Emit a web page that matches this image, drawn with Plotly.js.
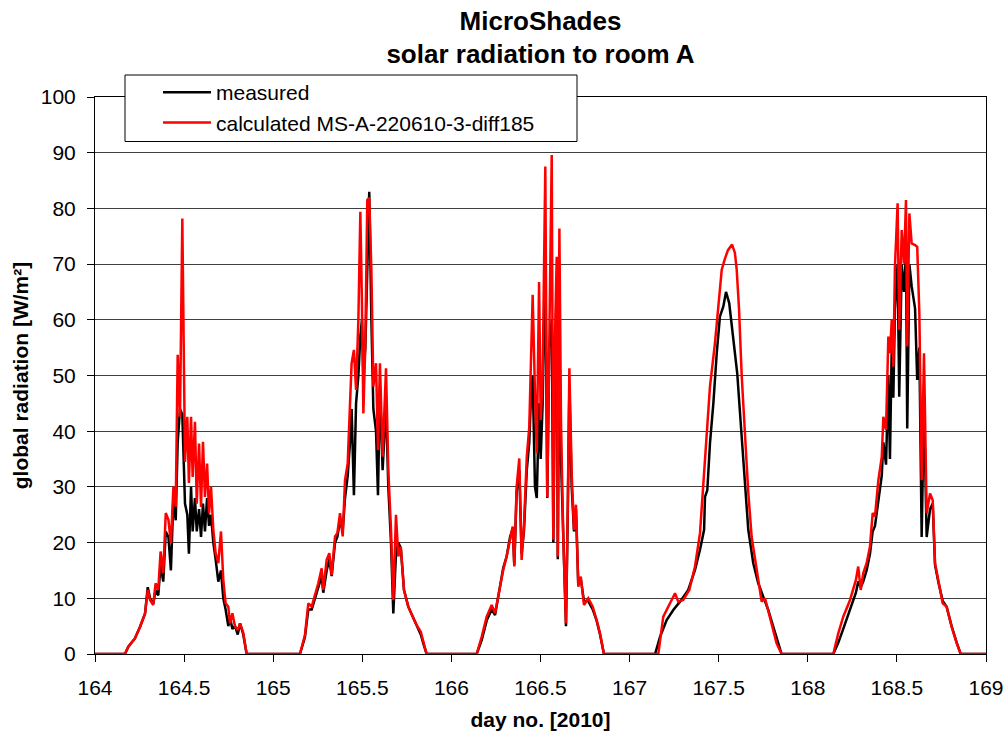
<!DOCTYPE html>
<html>
<head>
<meta charset="utf-8">
<script src="https://cdn.plot.ly/plotly-3.0.1.min.js"></script>
<style>html,body{margin:0;padding:0;background:#fff;}#chart{width:1008px;height:738px;}</style>
</head>
<body>
<div id="chart"></div>
<script>
// ---- data (day number, W/m²) ----
const dayRange = [164, 169];
const seriesNames = ["measured", "calculated MS-A-220610-3-diff185"];

const x164 = [164.168,164.187,164.224,164.253,164.281,164.296,164.309,164.327,164.340,164.355,164.368,164.383,164.397,164.412,164.426,164.440,164.453,164.464,164.477,164.490,164.498,164.505,164.518,164.527,164.539,164.548,164.561,164.571,164.584,164.595,164.606,164.617,164.629,164.640,164.651,164.664,164.677,164.692,164.707,164.720,164.733,164.748,164.758,164.771,164.786,164.801,164.814,164.832,164.851];
const meas164 = [0,1.3,2.8,4.9,7.3,12,10,9,11.5,10.5,16,13,22,21,15,28,24,38,44,43,36,27,25,18,30,22,28,22,26,21,27,22,28,23,25,20,17,13,15,10,8,5,6.5,4.5,5,3.5,5.5,3.5,0];
const calc164 = [0,1.3,2.8,4.9,7.3,11.5,9.7,8.8,12.7,11.5,18.4,14.5,25.3,24.1,19.9,30,26.4,53.7,42.6,78.2,46.2,34.5,42.6,30.7,42.6,31.8,41.7,27,37.8,26.4,38.1,28.2,34.2,25.3,30,22.3,18.1,16.3,22,13.3,9.1,8.5,5.5,7.3,4.9,4.3,5.5,3.8,0];

const x165 = [165.150,165.178,165.197,165.216,165.235,165.253,165.272,165.281,165.300,165.315,165.328,165.347,165.360,165.375,165.390,165.403,165.418,165.431,165.440,165.453,165.465,165.478,165.489,165.498,165.506,165.517,165.528,165.539,165.551,165.562,165.577,165.588,165.599,165.614,165.633,165.646,165.661,165.674,165.689,165.702,165.716,165.734,165.758,165.783,165.805,165.828,165.846,165.861];
const meas165 = [0,3,8,8,10,12,14,11,15,17,14,20,21,24,22,28,32,38,44,28.5,45,50,57,60,50,55,72,83,60,44,40,28.5,48,33,45,30,20,7.3,18,20,19,11.5,8.5,6.7,5,3.5,1.5,0];
const calc165 = [0,3.4,9.1,8.5,10.6,12.7,15.4,11.5,16.9,18.1,14.2,21.1,21.7,25.3,21.1,31.2,34.2,45,52.2,54.6,47.4,60,79.4,63,43.2,55.8,81.5,81.9,68.9,48,52.2,36.6,52.2,35.4,51.3,33,22.3,9.7,25,17.5,19.3,11.5,8.5,6.7,5.2,4,1.9,0];

const x166 = [166.142,166.170,166.198,166.226,166.245,166.263,166.291,166.310,166.329,166.344,166.353,166.366,166.381,166.394,166.407,166.423,166.437,166.445,166.456,166.469,166.479,166.492,166.501,166.512,166.527,166.538,166.549,166.563,166.572,166.581,166.591,166.597,166.606,166.615,166.628,166.643,166.653,166.662,166.675,166.688,166.699,166.712,166.726,166.744,166.768,166.793,166.815,166.834,166.856];
const meas166 = [0,2.5,6,8,7,10.6,15.5,17.5,21,22.5,16,29,33,18,22,33,38,45,50,30,28,45,35,45,72,28,55,60,20,50,67,17,58,35,20,5,25,48,30,22,26,12.5,13.5,9.5,9.5,8,6,3.5,0];
const calc166 = [0,3.1,6.7,8.8,7.3,10.6,15.1,17.5,20.5,22.9,15.7,30,35.1,16.9,22.9,35.4,40.8,51.6,64.5,46.8,36,66.8,42,49.8,87.5,28.2,56.4,89.6,20.5,56.4,71.3,17.5,76.4,42,20.5,5.5,26.4,51.3,32.4,22.3,26.8,12.1,13.9,8.8,10,8.5,6.1,3.7,0];

const x167meas = [167.143,167.171,167.208,167.245,167.283,167.329,167.367,167.395,167.418,167.423,167.436,167.451,167.470,167.489,167.507,167.526,167.541,167.559,167.582,167.604,167.629,167.648,167.666,167.694,167.722,167.750,167.778,167.806,167.834,167.853];
const meas167 = [0,3.1,6.1,7.9,9.4,11.5,15.1,18.7,22.3,28.2,29.4,37.8,45,54,60.6,62.4,65,63,57,50.4,39,29.4,22.3,16.3,12.7,10.3,7.9,4.9,1.9,0];
const x167calc = [167.161,167.189,167.217,167.255,167.273,167.301,167.335,167.367,167.395,167.414,167.423,167.451,167.479,167.507,167.517,167.535,167.552,167.575,167.591,167.601,167.614,167.629,167.648,167.666,167.685,167.713,167.741,167.760,167.788,167.825,167.853];
const calc167 = [0,6.7,8.5,10.9,9.4,9.7,11.5,15.7,21.7,30.6,36,48,55.8,65.4,69,71,72.5,73.5,72,69,62,50,38,29,21,15.1,9.4,10,6.7,1.9,0];

const x168 = [168.143,168.171,168.199,168.237,168.270,168.283,168.297,168.311,168.330,168.349,168.364,168.377,168.396,168.415,168.424,168.439,168.452,168.461,168.471,168.480,168.489,168.504,168.513,168.527,168.540,168.551,168.558,168.570,168.583,168.602,168.614,168.626,168.639,168.652,168.667,168.686,168.701,168.714,168.732,168.757,168.779,168.807,168.836,168.858];
const meas168 = [0,2,4.5,7.9,11,13,12,13,15,18,22,23,28,32,38,34,50,35,55,46,62,70,46.2,70,65,72,40.5,70,66,62,49.2,55,21,45,21,26,27,16,13,9.5,8.5,5,2,0];
const calc168 = [0,3.7,6.7,9.7,13.3,15.7,11.5,14.5,16.3,19.3,25.3,24.7,31.2,35.4,42.6,40.2,57,54,60,51.6,69.5,80.9,58.2,76.1,70.1,81.5,55.2,79.1,73.7,73.4,73.1,61.2,31.2,54,25.3,28.8,27.6,16.3,13.3,9.1,8.5,4.9,1.9,0];

const yTicks = [0,10,20,30,40,50,60,70,80,90,100];
const xTicks = [164,164.5,165,165.5,166,166.5,167,167.5,168,168.5,169];

// ---- assemble series (nights are zero between the day blocks) ----
function join(xs, ys) {
  const X = [dayRange[0]], Y = [0];
  xs.forEach((a, i) => { X.push(...a); Y.push(...ys[i]); });
  X.push(dayRange[1]); Y.push(0);
  return {X, Y};
}
const M = join([x164, x165, x166, x167meas, x168], [meas164, meas165, meas166, meas167, meas168]);
const C = join([x164, x165, x166, x167calc, x168], [calc164, calc165, calc166, calc167, calc168]);

const FONT = 'Arial, "Liberation Sans", sans-serif';
const L = 95, R = 22, T = 97, B = 84, W = 1008, H = 738;
const pw = W - L - R, ph = H - T - B;
const px = v => (v - L) / pw;       // pixel -> paper x
const py = v => (H - B - v) / ph;   // pixel -> paper y

const traces = [
  {x: M.X, y: M.Y, type: 'scatter', mode: 'lines', name: seriesNames[0],
   line: {color: '#000000', width: 2.5}, legendgroup: 'a'},
  {x: C.X, y: C.Y, type: 'scatter', mode: 'lines', name: seriesNames[1],
   line: {color: '#ff0000', width: 2.5}, legendgroup: 'b'}
];

const layout = {
  width: W, height: H,
  margin: {l: L, r: R, t: T, b: B, pad: 0},
  paper_bgcolor: '#ffffff', plot_bgcolor: '#ffffff',
  font: {family: FONT, color: '#000', size: 21},
  title: {text: '<b>MicroShades</b><br><b>solar radiation to room A</b>',
          font: {family: FONT, size: 26, color: '#000'},
          x: 0.5, xref: 'paper', xanchor: 'center',
          y: 0.96, yref: 'container', yanchor: 'top'},
  xaxis: {range: dayRange, tickvals: xTicks, ticktext: xTicks.map(String),
          showgrid: false, zeroline: false,
          showline: true, linecolor: '#000', linewidth: 1, mirror: true,
          ticks: 'outside', ticklen: 7, tickcolor: '#000', tickwidth: 1,
          ticklabelstandoff: 8,
          tickfont: {family: FONT, size: 21, color: '#000'},
          title: {text: '<b>day no. [2010]</b>', font: {family: FONT, size: 21, color: '#000'}, standoff: 14}},
  yaxis: {range: [0, 100], tickvals: yTicks, ticktext: yTicks.map(String),
          showgrid: true, gridcolor: '#404040', gridwidth: 1, zeroline: false,
          showline: true, linecolor: '#000', linewidth: 1, mirror: true,
          ticks: 'outside', ticklen: 7, tickcolor: '#000', tickwidth: 1,
          ticklabelstandoff: 7,
          tickfont: {family: FONT, size: 21, color: '#000'},
          title: {text: '<b>global radiation [W/m²]</b>', font: {family: FONT, size: 21, color: '#000'}, standoff: 6}},
  showlegend: true,
  legend: {x: px(158), y: py(72), xanchor: 'left', yanchor: 'top',
           bgcolor: 'rgba(0,0,0,0)', borderwidth: 0,
           font: {family: FONT, size: 21, color: '#000'},
           itemwidth: 48, tracegroupgap: 5, traceorder: 'normal'},
  shapes: [{type: 'rect', xref: 'paper', yref: 'paper',
            x0: px(125), x1: px(577), y0: py(141.5), y1: py(75),
            fillcolor: '#ffffff', line: {color: '#000', width: 1}, layer: 'above'}]
};

Plotly.newPlot('chart', traces, layout, {displayModeBar: false, staticPlot: true});
</script>
</body>
</html>
